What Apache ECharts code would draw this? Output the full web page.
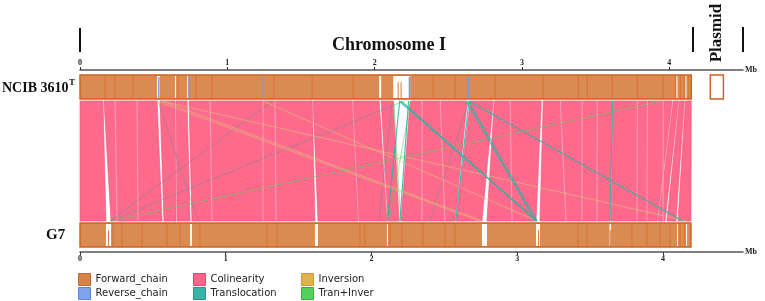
<!DOCTYPE html>
<html>
<head>
<meta charset="utf-8">
<script src="https://cdn.jsdelivr.net/npm/echarts@6/dist/echarts.min.js"></script>
<style>
  html, body { margin: 0; padding: 0; background: #fff; }
  #chart { width: 765px; height: 301px; }
</style>
</head>
<body>
<div id="chart"></div>
<script>
// --- data (Mb) ---
const tickValues = [0, 1, 2, 3, 4];
const refLength = 4.149;   // NCIB 3610T chromosome
const g7Length = 4.192;    // G7 chromosome
const plasmid = [4.278, 4.367];

// NCIB 3610T chain: contig borders, gaps, partial fragments, reverse pieces
const refDividers = [0.170, 0.238, 0.360, 0.666, 0.788, 0.896, 1.317, 1.576, 1.854, 2.397, 2.547, 2.818,
  3.144, 3.382, 3.443, 3.613, 3.783, 3.959, 4.041, 4.075, 4.102, 4.129];
const refGaps = [[0.523, 0.543], [0.645, 0.652], [0.727, 0.734], [2.031, 2.044], [2.126, 2.241],
  [4.048, 4.055], [4.109, 4.116]];
const refSpikes = [[2.156, 2.163], [2.176, 2.183]];
const refReverse = [[0.530, 0.540], [0.735, 0.745], [1.240, 1.250], [2.231, 2.240], [2.628, 2.645]];

// G7 chain
const g7Dividers = [0.226, 0.288, 0.425, 0.597, 0.686, 0.823, 1.283, 1.352, 1.921, 1.955, 2.127, 2.209,
  2.353, 2.504, 2.573, 3.417, 3.479, 3.787, 3.890, 3.979, 4.048, 4.117, 4.151];
const g7Gaps = [[0.178, 0.213], [0.755, 0.768], [1.612, 1.633], [2.106, 2.113], [2.758, 2.792],
  [3.129, 3.156], [3.633, 3.643], [4.096, 4.103], [4.158, 4.165]];
const g7Spikes = [[0.192, 0.199], [3.143, 3.150], [3.635, 3.641]];

// colinear blocks: [refStart, refEnd, g7Start, g7End]
const colinearBlocks = [
  [0.000, 0.156, 0.000, 0.178],
  [0.163, 0.523, 0.213, 0.563],
  [0.543, 0.645, 0.576, 0.659],
  [0.652, 0.727, 0.666, 0.755],
  [0.740, 1.576, 0.768, 1.612],
  [1.582, 1.847, 1.633, 1.907],
  [1.854, 2.031, 1.914, 2.106],
  [2.044, 2.126, 2.113, 2.189],
  [2.241, 2.628, 2.202, 2.573],
  [2.649, 2.805, 2.580, 2.758],
  [2.812, 3.131, 2.792, 3.129],
  [3.144, 3.613, 3.156, 3.636],
  [3.620, 4.020, 3.643, 3.959],
  [4.027, 4.062, 3.966, 4.014],
  [4.068, 4.102, 4.027, 4.089],
  [4.109, 4.149, 4.103, 4.192]
];
// small breaks inside colinear blocks: [ref, g7]
const minorBreaks = [[0.238, 0.254], [0.387, 0.398], [0.883, 0.906], [1.243, 1.256], [1.324, 1.345],
  [2.323, 2.346], [2.445, 2.504], [2.920, 2.964], [3.260, 3.335], [3.409, 3.444], [3.511, 3.547],
  [3.783, 3.822], [3.851, 3.890], [3.959, 4.000]];

// links: [ref, g7]
const translocationMain = [[2.166, 3.136], [2.635, 3.136], [2.640, 4.137], [3.615, 3.636], [2.170, 2.110],
  [2.230, 2.195], [2.640, 2.578], [2.180, 3.130], [2.620, 3.125]];
const translocationFaint = [[1.304, 0.205], [2.200, 0.205], [0.530, 0.810], [2.640, 2.400], [2.120, 2.050]];
const inversionLinks = [[0.520, 2.740], [0.560, 2.760], [1.240, 3.136], [0.550, 4.160]];
const tranInverLinks = [[3.950, 0.215], [2.245, 2.120], [2.130, 2.200]];

// --- layout / style ---
const SERIF = '"Liberation Serif", "DejaVu Serif", serif';
const ORANGE = '#d98b52', ORANGE_DARK = '#d2631f';
const PINK = '#fd6a8b', PINK_EDGE = '#ee4f78';
const BLUE = '#6f9cf0', TEAL = '#2db3a6', GREEN = '#4fcf55';
const ROW_REF = [5, 29], LINK_Y = [31, 151], ROW_G7 = [153, 177];

const chart = echarts.init(document.getElementById('chart'));

function g7Coord(v, y) {
  return chart.convertToPixel({ xAxisIndex: 1, yAxisIndex: 0 }, [v, y]);
}

function chainData(len, dividers, gaps, spikes) {
  return [[0, 0, len]].concat(
    dividers.map(d => [1, d, d]),
    gaps.map(g => [2, g[0], g[1]]),
    spikes.map(g => [3, g[0], g[1]])
  );
}

function chainRenderer(row) {
  return function (params, api) {
    const kind = api.value(0);
    const p0 = api.coord([api.value(1), row[0]]);
    const p1 = api.coord([api.value(2), row[1]]);
    const x = p0[0], y = p0[1], h = p1[1] - p0[1];
    const w = Math.max(p1[0] - p0[0], 1);
    if (kind === 0) {
      return { type: 'rect', shape: { x: x, y: y, width: w, height: h },
        style: { fill: ORANGE, stroke: ORANGE_DARK, lineWidth: 1.5 } };
    }
    if (kind === 1) {
      return { type: 'line', shape: { x1: x, y1: y, x2: x, y2: y + h },
        style: { stroke: ORANGE_DARK, lineWidth: 1, opacity: 0.55 } };
    }
    if (kind === 2) {
      return { type: 'rect', shape: { x: x, y: y + 1, width: w, height: h - 2 }, style: { fill: '#fff' } };
    }
    if (kind === 3) {
      return { type: 'rect', shape: { x: x, y: y + h * 0.3, width: w, height: h * 0.7 },
        style: { fill: ORANGE_DARK, opacity: 0.85 } };
    }
    return { type: 'rect', shape: { x: x, y: y, width: w, height: h },
      style: { fill: '#fff', stroke: ORANGE_DARK, lineWidth: 1.5 } };
  };
}

function linkSeries(name, data, color, width, opacity) {
  return {
    name: name, type: 'custom', xAxisIndex: 0, yAxisIndex: 0, data: data,
    itemStyle: { color: color },
    renderItem: function (params, api) {
      const a = api.coord([api.value(0), LINK_Y[0]]);
      const b = g7Coord(api.value(1), LINK_Y[1]);
      return { type: 'line', shape: { x1: a[0], y1: a[1], x2: b[0], y2: b[1] },
        style: { stroke: color, lineWidth: width, opacity: opacity } };
    }
  };
}

const axisCommon = {
  type: 'value', gridIndex: 0, min: 0, name: 'Mb', nameLocation: 'end', nameGap: 2,
  nameTextStyle: { fontFamily: SERIF, fontWeight: 'bold', fontSize: 8, color: '#222', verticalAlign: 'middle' },
  axisLine: { show: true, onZero: false, lineStyle: { color: '#555', width: 1.5 } },
  axisTick: { show: true, length: 3, customValues: tickValues, lineStyle: { color: '#333' } },
  axisLabel: { customValues: tickValues, margin: 3, fontSize: 8, fontWeight: 'bold', fontFamily: SERIF, color: '#222' },
  splitLine: { show: false }
};

const legendText = { fontFamily: '"DejaVu Sans", sans-serif', fontSize: 10, color: '#222' };
function legendCol(left, items) {
  return {
    left: left, top: 273, orient: 'vertical', itemGap: 1, itemWidth: 12, itemHeight: 12,
    icon: 'rect', selectedMode: false, textStyle: legendText, padding: 0,
    data: items.map(it => ({ name: it[0], itemStyle: { color: it[1], borderColor: it[2], borderWidth: 1 } }))
  };
}

chart.setOption({
  animation: false,
  grid: { left: 80, right: 22, top: 70, bottom: 49 },
  xAxis: [
    Object.assign({}, axisCommon, { position: 'top', max: 4.5 }),
    Object.assign({}, axisCommon, { position: 'bottom', max: 4.549 })
  ],
  yAxis: { type: 'value', min: 0, max: 182, inverse: true, show: false },
  legend: [
    legendCol(78, [['Forward_chain', '#d7834a', '#c86a30'], ['Reverse_chain', '#7ea4ec', '#5b86d8']]),
    legendCol(193, [['Colinearity', '#fb668a', '#e8456f'], ['Translocation', '#3cb3a8', '#24968c']]),
    legendCol(301, [['Inversion', '#e2b24e', '#c99a38'], ['Tran+Inver', '#56d05a', '#38b03c']])
  ],
  series: [
    {
      name: 'Colinearity', type: 'custom', xAxisIndex: 0, yAxisIndex: 0, data: colinearBlocks,
      itemStyle: { color: PINK },
      renderItem: function (params, api) {
        const a = api.coord([api.value(0), LINK_Y[0]]);
        const b = api.coord([api.value(1), LINK_Y[0]]);
        const c = g7Coord(api.value(3), LINK_Y[1]);
        const d = g7Coord(api.value(2), LINK_Y[1]);
        return { type: 'polygon', shape: { points: [a, b, c, d] },
          style: { fill: PINK, stroke: PINK_EDGE, lineWidth: 0.6 } };
      }
    },
    linkSeries('Colinearity', minorBreaks, 'rgba(255,225,235,1)', 1, 0.45),
    linkSeries('Translocation', translocationFaint, '#5a8f9a', 0.9, 0.5),
    linkSeries('Inversion', inversionLinks, '#d6cf78', 0.9, 0.6),
    linkSeries('Tran+Inver', tranInverLinks, GREEN, 0.9, 0.6),
    linkSeries('Translocation', translocationMain, TEAL, 1.2, 0.85),
    {
      name: 'Forward_chain', type: 'custom', xAxisIndex: 0, yAxisIndex: 0,
      data: chainData(refLength, refDividers, refGaps, refSpikes).concat([[4, plasmid[0], plasmid[1]]]),
      itemStyle: { color: ORANGE }, renderItem: chainRenderer(ROW_REF)
    },
    {
      name: 'Forward_chain', type: 'custom', xAxisIndex: 1, yAxisIndex: 0,
      data: chainData(g7Length, g7Dividers, g7Gaps, g7Spikes),
      itemStyle: { color: ORANGE }, renderItem: chainRenderer(ROW_G7)
    },
    {
      name: 'Reverse_chain', type: 'custom', xAxisIndex: 0, yAxisIndex: 0, data: refReverse,
      itemStyle: { color: BLUE },
      renderItem: function (params, api) {
        const p0 = api.coord([api.value(0), ROW_REF[0]]);
        const p1 = api.coord([api.value(1), ROW_REF[1]]);
        return { type: 'rect', shape: { x: p0[0], y: p0[1] + 2, width: Math.max(p1[0] - p0[0], 1.5), height: p1[1] - p0[1] - 3 },
          style: { fill: BLUE } };
      }
    }
  ],
  graphic: [
    { type: 'rect', shape: { x: 79, y: 28, width: 2, height: 24 }, style: { fill: '#111' } },
    { type: 'rect', shape: { x: 692, y: 27, width: 2, height: 25 }, style: { fill: '#111' } },
    { type: 'rect', shape: { x: 742, y: 27, width: 2, height: 25 }, style: { fill: '#111' } },
    { type: 'text', x: 389, y: 45, style: { text: 'Chromosome I', font: 'bold 18px ' + SERIF, fill: '#111',
      textAlign: 'center', textVerticalAlign: 'middle', align: 'center', verticalAlign: 'middle' } },
    { type: 'text', x: 717, y: 33, rotation: Math.PI / 2, style: { text: 'Plasmid', font: 'bold 17px ' + SERIF, fill: '#111',
      textAlign: 'center', textVerticalAlign: 'middle', align: 'center', verticalAlign: 'middle' } },
    { type: 'text', x: 2, y: 88, style: { text: 'NCIB 3610', font: 'bold 14px ' + SERIF, fill: '#111',
      textAlign: 'left', textVerticalAlign: 'middle', align: 'left', verticalAlign: 'middle' } },
    { type: 'text', x: 69, y: 83, style: { text: 'T', font: 'bold 9px ' + SERIF, fill: '#111',
      textAlign: 'left', textVerticalAlign: 'middle', align: 'left', verticalAlign: 'middle' } },
    { type: 'text', x: 46, y: 235, style: { text: 'G7', font: 'bold 15px ' + SERIF, fill: '#111',
      textAlign: 'left', textVerticalAlign: 'middle', align: 'left', verticalAlign: 'middle' } }
  ]
});
</script>
</body>
</html>
